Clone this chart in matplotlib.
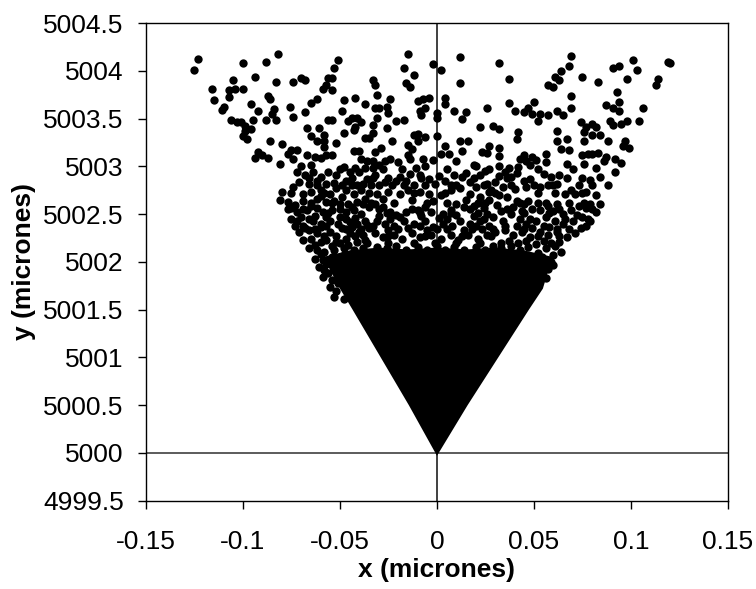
import numpy as np
import matplotlib.pyplot as plt

plt.rcParams['font.family'] = ['Liberation Sans', 'DejaVu Sans']

# === Data (x, y in micrones) ===
# sparse points, upper left
pts_upper_left = [
    (-0.123, 5004.12), (-0.125, 5004.01),
    (-0.082, 5004.18), (-0.100, 5004.08), (-0.088, 5004.09), (-0.094, 5003.94), (-0.105, 5003.90),
    (-0.116, 5003.81), (-0.107, 5003.80), (-0.104, 5003.81), (-0.100, 5003.81), (-0.107, 5003.73),
    (-0.115, 5003.69), (-0.083, 5003.88), (-0.074, 5003.88), (-0.070, 5003.92), (-0.068, 5003.90),
    (-0.057, 5003.85), (-0.059, 5003.81), (-0.056, 5003.92), (-0.087, 5003.74), (-0.086, 5003.71),
    (-0.096, 5003.65), (-0.110, 5003.62), (-0.111, 5003.59), (-0.092, 5003.58), (-0.084, 5003.60),
    (-0.085, 5003.55), (-0.076, 5003.62), (-0.065, 5003.66), (-0.062, 5003.70), (-0.068, 5003.57),
    (-0.106, 5003.48), (-0.103, 5003.46), (-0.101, 5003.46), (-0.099, 5003.42), (-0.095, 5003.48),
    (-0.096, 5003.39), (-0.099, 5003.37), (-0.088, 5003.49), (-0.083, 5003.48), (-0.074, 5003.52),
    (-0.100, 5003.32), (-0.098, 5003.29), (-0.086, 5003.27), (-0.067, 5003.40), (-0.061, 5003.40),
    (-0.065, 5003.32), (-0.062, 5003.27), (-0.058, 5003.33), (-0.058, 5003.27), (-0.056, 5003.48),
    (-0.080, 5003.23), (-0.092, 5003.15), (-0.094, 5003.09), (-0.090, 5003.12), (-0.087, 5003.09),
    (-0.075, 5003.17), (-0.072, 5003.17), (-0.077, 5003.13), (-0.081, 5003.02), (-0.074, 5003.08),
    (-0.067, 5003.12), (-0.063, 5003.10), (-0.060, 5003.09), (-0.070, 5003.00), (-0.065, 5003.01),
    (-0.058, 5003.20), (-0.057, 5003.12),
]

# sparse points, upper centre
pts_upper_mid = [
    (-0.015, 5004.18), (-0.017, 5004.03), (-0.012, 5003.96), (-0.002, 5004.07), (0.002, 5004.01),
    (0.012, 5004.14), (-0.051, 5004.11), (-0.053, 5004.03), (-0.054, 5003.92), (-0.054, 5003.80),
    (-0.033, 5003.90), (-0.032, 5003.85), (-0.016, 5003.87), (-0.014, 5003.83), (-0.031, 5003.75),
    (0.012, 5003.87), (-0.048, 5003.69), (-0.042, 5003.72), (-0.024, 5003.71), (-0.004, 5003.72),
    (-0.007, 5003.70), (-0.010, 5003.68), (-0.037, 5003.65), (-0.032, 5003.61), (-0.030, 5003.61),
    (-0.026, 5003.62), (-0.025, 5003.56), (-0.049, 5003.58), (-0.009, 5003.58), (-0.008, 5003.54),
    (-0.006, 5003.61), (0.004, 5003.72), (0.004, 5003.65), (0.000, 5003.56), (0.000, 5003.51),
    (0.009, 5003.58), (-0.054, 5003.48), (-0.046, 5003.47), (-0.044, 5003.51), (-0.041, 5003.51),
    (-0.039, 5003.46), (-0.042, 5003.41), (-0.043, 5003.38), (-0.033, 5003.43), (-0.031, 5003.51),
    (-0.021, 5003.47), (-0.017, 5003.49), (-0.026, 5003.40), (-0.033, 5003.35), (-0.048, 5003.35),
    (-0.037, 5003.30), (-0.035, 5003.30), (-0.023, 5003.27), (-0.012, 5003.33), (-0.010, 5003.34),
    (-0.010, 5003.26), (-0.006, 5003.31), (0.000, 5003.32), (-0.052, 5003.24), (-0.043, 5003.16),
    (-0.040, 5003.16), (-0.032, 5003.15), (-0.029, 5003.19), (-0.015, 5003.22), (-0.013, 5003.18),
    (-0.015, 5003.12), (-0.014, 5003.08), (-0.054, 5003.12), (-0.039, 5003.08), (-0.036, 5003.06),
    (-0.033, 5003.06), (-0.030, 5003.01), (-0.027, 5003.06), (-0.024, 5003.08), (-0.020, 5003.05),
    (-0.007, 5003.08), (-0.002, 5003.07), (0.002, 5003.13), (0.004, 5003.21), (0.006, 5003.13),
    (0.010, 5003.06), (-0.048, 5002.99), (-0.042, 5002.98), (-0.037, 5002.98), (-0.033, 5002.98),
    (-0.011, 5002.98), (-0.006, 5003.00),
]

# sparse points, upper right
pts_upper_right = [
    (0.032, 5004.08), (0.069, 5004.15), (0.068, 5004.05), (0.064, 5004.00), (0.061, 5003.94),
    (0.063, 5003.90), (0.075, 5003.94), (0.037, 5003.91), (0.057, 5003.85), (0.060, 5003.83),
    (0.069, 5003.74), (0.037, 5003.66), (0.050, 5003.67), (0.040, 5003.58), (0.045, 5003.57),
    (0.047, 5003.61), (0.049, 5003.55), (0.053, 5003.55), (0.052, 5003.47), (0.057, 5003.54),
    (0.062, 5003.58), (0.065, 5003.54), (0.069, 5003.61), (0.026, 5003.61), (0.015, 5003.57),
    (0.013, 5003.50), (0.022, 5003.41), (0.029, 5003.42), (0.032, 5003.39), (0.042, 5003.36),
    (0.041, 5003.29), (0.062, 5003.37), (0.062, 5003.27), (0.067, 5003.29), (0.074, 5003.46),
    (0.076, 5003.36), (0.077, 5003.41), (0.076, 5003.27), (0.012, 5003.27), (0.016, 5003.26),
    (0.027, 5003.21), (0.023, 5003.15), (0.026, 5003.14), (0.032, 5003.19), (0.032, 5003.11),
    (0.013, 5003.16), (0.045, 5003.12), (0.043, 5003.08), (0.046, 5003.06), (0.049, 5003.10),
    (0.051, 5003.07), (0.056, 5003.13), (0.056, 5003.05), (0.064, 5003.18), (0.068, 5003.17),
    (0.075, 5003.12), (0.078, 5003.13), (0.019, 5003.01), (0.020, 5003.00), (0.032, 5003.00),
    (0.037, 5002.98), (0.042, 5002.99), (0.048, 5003.01), (0.067, 5003.02), (0.076, 5003.02),
    (0.101, 5004.11), (0.094, 5004.05), (0.091, 5004.03), (0.103, 5004.01), (0.119, 5004.09),
    (0.120, 5004.08), (0.083, 5003.88), (0.098, 5003.91), (0.114, 5003.91), (0.113, 5003.85),
    (0.093, 5003.78), (0.094, 5003.67), (0.087, 5003.64), (0.091, 5003.61), (0.094, 5003.58),
    (0.106, 5003.61), (0.089, 5003.47), (0.091, 5003.43), (0.095, 5003.44), (0.098, 5003.47),
    (0.104, 5003.47), (0.080, 5003.44), (0.082, 5003.41), (0.080, 5003.33), (0.084, 5003.33),
    (0.088, 5003.27), (0.097, 5003.26), (0.096, 5003.21), (0.099, 5003.19), (0.080, 5003.13),
    (0.083, 5003.14), (0.087, 5003.10), (0.086, 5003.06), (0.092, 5003.08), (0.095, 5003.04),
    (0.082, 5002.98),
]

# crowded band, left
pts_band_left = [
    (-0.072, 5002.94), (-0.068, 5002.91), (-0.064, 5002.94), (-0.060, 5002.89), (-0.056, 5002.94),
    (-0.052, 5002.91), (-0.047, 5002.85), (-0.045, 5002.94), (-0.040, 5002.94), (-0.036, 5002.87),
    (-0.071, 5002.84), (-0.066, 5002.82), (-0.057, 5002.82), (-0.049, 5002.80), (-0.041, 5002.80),
    (-0.080, 5002.73), (-0.065, 5002.73), (-0.060, 5002.75), (-0.055, 5002.71), (-0.052, 5002.77),
    (-0.047, 5002.75), (-0.043, 5002.71), (-0.039, 5002.75), (-0.069, 5002.71),
    (-0.081, 5002.65), (-0.077, 5002.63), (-0.075, 5002.56),
    (-0.069, 5002.64), (-0.062, 5002.66), (-0.057, 5002.63), (-0.053, 5002.64), (-0.050, 5002.61),
    (-0.046, 5002.61), (-0.041, 5002.63), (-0.037, 5002.66),
    (-0.072, 5002.52), (-0.067, 5002.54), (-0.062, 5002.56), (-0.059, 5002.52), (-0.054, 5002.54),
    (-0.047, 5002.52), (-0.043, 5002.54), (-0.039, 5002.50), (-0.035, 5002.57),
    (-0.072, 5002.43), (-0.069, 5002.38), (-0.064, 5002.43), (-0.060, 5002.40), (-0.055, 5002.43),
    (-0.051, 5002.40), (-0.045, 5002.42), (-0.041, 5002.40), (-0.037, 5002.43),
    (-0.071, 5002.31), (-0.066, 5002.33), (-0.062, 5002.30), (-0.055, 5002.31), (-0.049, 5002.35),
    (-0.045, 5002.30), (-0.040, 5002.31), (-0.035, 5002.35),
    (-0.069, 5002.23), (-0.065, 5002.24), (-0.060, 5002.21), (-0.057, 5002.23), (-0.052, 5002.21),
    (-0.047, 5002.24), (-0.041, 5002.21), (-0.037, 5002.23),
    (-0.066, 5002.14), (-0.062, 5002.12), (-0.058, 5002.10), (-0.053, 5002.12), (-0.048, 5002.14),
    (-0.043, 5002.12), (-0.038, 5002.14),
    (-0.063, 5002.03), (-0.059, 5002.02), (-0.054, 5002.05), (-0.050, 5002.00), (-0.045, 5002.03),
    (-0.041, 5002.02), (-0.036, 5002.05),
    (-0.061, 5001.95), (-0.058, 5001.91), (-0.053, 5001.93), (-0.047, 5001.91), (-0.043, 5001.95),
    (-0.038, 5001.93),
    (-0.059, 5001.84), (-0.054, 5001.81), (-0.050, 5001.84), (-0.045, 5001.82), (-0.040, 5001.84),
    (-0.035, 5001.81),
    (-0.055, 5001.74), (-0.052, 5001.70), (-0.047, 5001.74), (-0.043, 5001.72),
    (-0.053, 5001.63), (-0.048, 5001.61),
    (-0.074, 5002.78), (-0.062, 5002.85), (-0.053, 5002.83), (-0.044, 5002.88), (-0.038, 5002.82),
    (-0.073, 5002.60), (-0.065, 5002.58), (-0.060, 5002.69), (-0.049, 5002.68), (-0.044, 5002.57),
    (-0.038, 5002.61), (-0.070, 5002.47), (-0.063, 5002.48), (-0.057, 5002.47), (-0.050, 5002.47),
    (-0.042, 5002.46), (-0.036, 5002.39), (-0.068, 5002.35), (-0.060, 5002.36), (-0.052, 5002.27),
    (-0.044, 5002.36), (-0.038, 5002.28), (-0.063, 5002.18), (-0.054, 5002.17), (-0.046, 5002.18),
    (-0.040, 5002.08), (-0.060, 5002.08), (-0.057, 5001.98), (-0.048, 5002.07), (-0.056, 5001.88),
    (-0.051, 5001.78),
]

# crowded band, centre
pts_band_mid = [
    (-0.032, 5002.91), (-0.027, 5002.84), (-0.023, 5002.80), (-0.019, 5002.89), (-0.016, 5002.85),
    (-0.012, 5002.80), (-0.009, 5002.91), (-0.004, 5002.87), (-0.001, 5002.82), (0.004, 5002.85),
    (0.009, 5002.91), (0.013, 5002.89), (0.017, 5002.84), (0.022, 5002.91), (0.026, 5002.82),
    (-0.031, 5002.71), (-0.025, 5002.73), (-0.019, 5002.71), (-0.015, 5002.75), (-0.009, 5002.73),
    (-0.004, 5002.71), (0.002, 5002.70), (0.007, 5002.75), (0.012, 5002.77), (0.017, 5002.71),
    (0.022, 5002.68), (0.027, 5002.73),
    (-0.032, 5002.61), (-0.028, 5002.57), (-0.024, 5002.52), (-0.021, 5002.49), (-0.016, 5002.52),
    (-0.010, 5002.54), (-0.006, 5002.57), (-0.003, 5002.52), (0.003, 5002.50), (0.007, 5002.54),
    (0.010, 5002.61), (0.014, 5002.57), (0.019, 5002.59), (0.024, 5002.56),
    (-0.031, 5002.43), (-0.027, 5002.40), (-0.022, 5002.38), (-0.017, 5002.43), (-0.012, 5002.40),
    (-0.006, 5002.43), (-0.002, 5002.37), (0.003, 5002.40), (0.008, 5002.38), (0.012, 5002.43),
    (0.017, 5002.40), (0.022, 5002.43), (0.027, 5002.38),
    (-0.032, 5002.30), (-0.028, 5002.26), (-0.022, 5002.28), (-0.018, 5002.24), (-0.013, 5002.30),
    (-0.009, 5002.26), (-0.003, 5002.28), (0.002, 5002.24), (0.007, 5002.28), (0.011, 5002.23),
    (0.016, 5002.28), (0.021, 5002.24), (0.026, 5002.28),
    (-0.031, 5002.16), (-0.026, 5002.14), (-0.021, 5002.17), (-0.016, 5002.12), (-0.010, 5002.16),
    (-0.005, 5002.12), (0.000, 5002.17), (0.004, 5002.12), (0.009, 5002.16), (0.014, 5002.12),
    (0.020, 5002.16), (0.025, 5002.12),
    (-0.032, 5002.03), (-0.027, 5002.02), (-0.022, 5002.05), (-0.016, 5002.02), (-0.011, 5002.03),
    (-0.006, 5002.05), (-0.001, 5002.02), (0.004, 5002.05), (0.009, 5002.02), (0.014, 5002.05),
    (0.020, 5002.02), (0.025, 5002.03),
    (-0.029, 5001.93), (-0.019, 5001.91), (-0.009, 5001.95), (0.002, 5001.91), (0.012, 5001.93),
    (0.022, 5001.91),
    (-0.030, 5002.80), (-0.021, 5002.85), (-0.014, 5002.92), (-0.006, 5002.80), (0.001, 5002.90),
    (0.007, 5002.80), (0.015, 5002.93), (0.020, 5002.78), (0.025, 5002.95),
    (-0.028, 5002.66), (-0.022, 5002.62), (-0.013, 5002.65), (-0.002, 5002.64), (0.005, 5002.62),
    (0.015, 5002.65), (0.021, 5002.62), (0.027, 5002.65),
    (-0.030, 5002.48), (-0.019, 5002.47), (-0.008, 5002.48), (0.001, 5002.46), (0.010, 5002.49),
    (0.019, 5002.48), (0.026, 5002.50),
    (-0.025, 5002.33), (-0.015, 5002.35), (-0.005, 5002.33), (0.005, 5002.34), (0.014, 5002.33),
    (0.023, 5002.34),
]

# crowded band, right
pts_band_right = [
    (0.035, 5002.94), (0.030, 5002.84), (0.038, 5002.89), (0.045, 5002.85), (0.046, 5002.78),
    (0.050, 5002.80), (0.053, 5002.78), (0.057, 5002.80), (0.059, 5002.89), (0.063, 5002.91),
    (0.069, 5002.75), (0.066, 5002.71), (0.071, 5002.71), (0.077, 5002.73), (0.082, 5002.70),
    (0.084, 5002.89), (0.088, 5002.80), (0.092, 5002.94), (0.028, 5002.75), (0.032, 5002.70),
    (0.036, 5002.68), (0.041, 5002.64), (0.045, 5002.61), (0.047, 5002.64), (0.049, 5002.55),
    (0.053, 5002.54), (0.057, 5002.59), (0.062, 5002.61), (0.065, 5002.50), (0.069, 5002.54),
    (0.073, 5002.59), (0.077, 5002.56), (0.079, 5002.61), (0.075, 5002.47), (0.079, 5002.43),
    (0.084, 5002.61),
    (0.029, 5002.47), (0.034, 5002.43), (0.038, 5002.50), (0.043, 5002.45), (0.046, 5002.40),
    (0.051, 5002.43), (0.056, 5002.47), (0.061, 5002.43), (0.065, 5002.40), (0.070, 5002.43),
    (0.074, 5002.35),
    (0.030, 5002.31), (0.035, 5002.33), (0.039, 5002.28), (0.044, 5002.31), (0.048, 5002.26),
    (0.053, 5002.31), (0.057, 5002.28), (0.062, 5002.31), (0.067, 5002.26),
    (0.029, 5002.17), (0.033, 5002.14), (0.038, 5002.17), (0.043, 5002.12), (0.047, 5002.16),
    (0.051, 5002.19), (0.056, 5002.14), (0.061, 5002.17), (0.064, 5002.10),
    (0.031, 5002.03), (0.036, 5002.05), (0.040, 5002.00), (0.045, 5002.03), (0.050, 5002.02),
    (0.054, 5002.05), (0.059, 5002.00),
    (0.029, 5001.91), (0.034, 5001.93), (0.039, 5001.89), (0.045, 5001.95), (0.048, 5001.91),
    (0.053, 5001.89), (0.057, 5001.93),
    (0.031, 5001.81), (0.037, 5001.79), (0.043, 5001.82), (0.047, 5001.77), (0.053, 5001.81),
    (0.032, 5001.68), (0.039, 5001.70), (0.045, 5001.67), (0.050, 5001.70),
    (0.032, 5002.90), (0.041, 5002.93), (0.048, 5002.87), (0.055, 5002.92), (0.034, 5002.78),
    (0.040, 5002.76), (0.062, 5002.82), (0.073, 5002.80), (0.079, 5002.86), (0.031, 5002.60),
    (0.039, 5002.57), (0.044, 5002.53), (0.052, 5002.62), (0.060, 5002.53), (0.072, 5002.49),
    (0.082, 5002.52), (0.033, 5002.53), (0.041, 5002.38), (0.049, 5002.35), (0.058, 5002.37),
    (0.068, 5002.34), (0.071, 5002.30), (0.037, 5002.22), (0.046, 5002.22), (0.055, 5002.22),
    (0.063, 5002.21), (0.033, 5002.08), (0.042, 5002.07), (0.052, 5002.09), (0.060, 5002.07),
    (0.060, 5001.97), (0.056, 5001.83),
]

# more of the crowded band, between the rows above
pts_band_fill = [
    (-0.050, 5002.97), (-0.028, 5002.97), (-0.018, 5002.97), (0.005, 5002.97), (0.027, 5002.97),
    (0.052, 5002.97), (0.070, 5002.97),
    (-0.066, 5002.88), (-0.033, 5002.88), (-0.025, 5002.88), (-0.008, 5002.88), (0.019, 5002.88),
    (0.036, 5002.88), (0.067, 5002.88), (0.075, 5002.88),
    (-0.062, 5002.80), (-0.044, 5002.80), (-0.034, 5002.80), (-0.017, 5002.80), (0.010, 5002.80),
    (0.024, 5002.80), (0.038, 5002.80), (0.060, 5002.80), (0.080, 5002.80),
    (-0.075, 5002.72), (-0.058, 5002.72), (-0.035, 5002.72), (-0.012, 5002.72), (0.004, 5002.72),
    (0.030, 5002.72), (0.052, 5002.72), (0.061, 5002.72), (0.075, 5002.72),
    (-0.065, 5002.62), (-0.054, 5002.62), (-0.034, 5002.62), (-0.005, 5002.62), (0.025, 5002.62),
    (0.043, 5002.62), (0.056, 5002.62), (0.068, 5002.62), (0.076, 5002.62),
    (-0.077, 5002.55), (-0.069, 5002.55), (-0.050, 5002.55), (-0.030, 5002.55), (-0.013, 5002.55),
    (0.017, 5002.55), (0.036, 5002.55), (0.063, 5002.55), (0.080, 5002.55),
    (-0.056, 5002.51), (-0.026, 5002.51), (-0.009, 5002.51), (0.007, 5002.51), (0.021, 5002.51),
    (0.045, 5002.51), (0.058, 5002.51),
    (-0.075, 5002.45), (-0.066, 5002.45), (-0.047, 5002.45), (-0.024, 5002.45), (0.005, 5002.45),
    (0.024, 5002.45), (0.048, 5002.45), (0.066, 5002.45), (0.078, 5002.45),
    (-0.073, 5002.38), (-0.057, 5002.38), (-0.033, 5002.38), (-0.009, 5002.38), (0.020, 5002.38),
    (0.035, 5002.38), (0.055, 5002.38), (0.077, 5002.38),
    (-0.063, 5002.34), (-0.047, 5002.34), (-0.039, 5002.34), (-0.020, 5002.34), (0.000, 5002.34),
    (0.018, 5002.34), (0.029, 5002.34), (0.045, 5002.34), (0.062, 5002.34),
    (-0.058, 5002.27), (-0.042, 5002.27), (-0.025, 5002.27), (-0.006, 5002.27), (0.013, 5002.27),
    (0.028, 5002.27), (0.052, 5002.27), (0.063, 5002.27),
    (-0.050, 5002.20), (-0.036, 5002.20), (-0.025, 5002.20), (-0.012, 5002.20), (-0.001, 5002.20),
    (0.010, 5002.20), (0.022, 5002.20), (0.033, 5002.20), (0.042, 5002.20), (0.059, 5002.20),
]

# outline of the solid (fully overlapped) core of the cloud
core_x = [0.0, -0.0145, -0.029, -0.0435, -0.050, -0.056, -0.059, -0.045, -0.030, -0.015, 0.0,
          0.015, 0.030, 0.045, 0.060, 0.058, 0.0546, 0.0474, 0.0316, 0.0158]
core_y = [4999.97, 5000.5, 5001.0, 5001.5, 5001.72, 5001.95, 5002.05, 5002.12, 5002.15, 5002.13,
          5002.15, 5002.13, 5002.15, 5002.12, 5002.05, 5001.95, 5001.72, 5001.5, 5001.0, 5000.5]

x_ticks = [-0.15, -0.1, -0.05, 0, 0.05, 0.1, 0.15]
y_ticks = [4999.5, 5000, 5000.5, 5001, 5001.5, 5002, 5002.5, 5003, 5003.5, 5004, 5004.5]

all_pts = np.array(pts_upper_left + pts_upper_mid + pts_upper_right
                   + pts_band_left + pts_band_mid + pts_band_right + pts_band_fill)

fig = plt.figure(figsize=(7.56, 5.89), dpi=100)
ax = fig.add_axes([0.1931, 0.1499, 0.7698, 0.8110])

# reference lines through the origin
ax.axhline(5000, color='#404040', lw=1.2, zorder=1)
ax.axvline(0, color='#202020', lw=1.2, zorder=1)

ax.fill(core_x, core_y, color='black', lw=0, zorder=2)
ax.scatter(all_pts[:, 0], all_pts[:, 1], s=36, color='black', linewidths=0, zorder=3)

ax.set_xlim(-0.15, 0.15)
ax.set_ylim(4999.5, 5004.5)
ax.set_xticks(x_ticks)
ax.set_xticklabels([f"{v:g}" for v in x_ticks])
ax.set_yticks(y_ticks)
ax.set_yticklabels([f"{v:g}" for v in y_ticks])
ax.tick_params(direction='out', length=6, width=1, labelsize=19)
ax.tick_params(axis='y', pad=10)
ax.tick_params(axis='x', pad=15)
for sp in ax.spines.values():
    sp.set_linewidth(1)
    sp.set_color('black')

ax.set_xlabel('x (micrones)', fontsize=19, fontweight='bold', labelpad=3)
ax.set_ylabel('y (micrones)', fontsize=19, fontweight='bold', labelpad=5)

fig.savefig('out.png', dpi=100)
